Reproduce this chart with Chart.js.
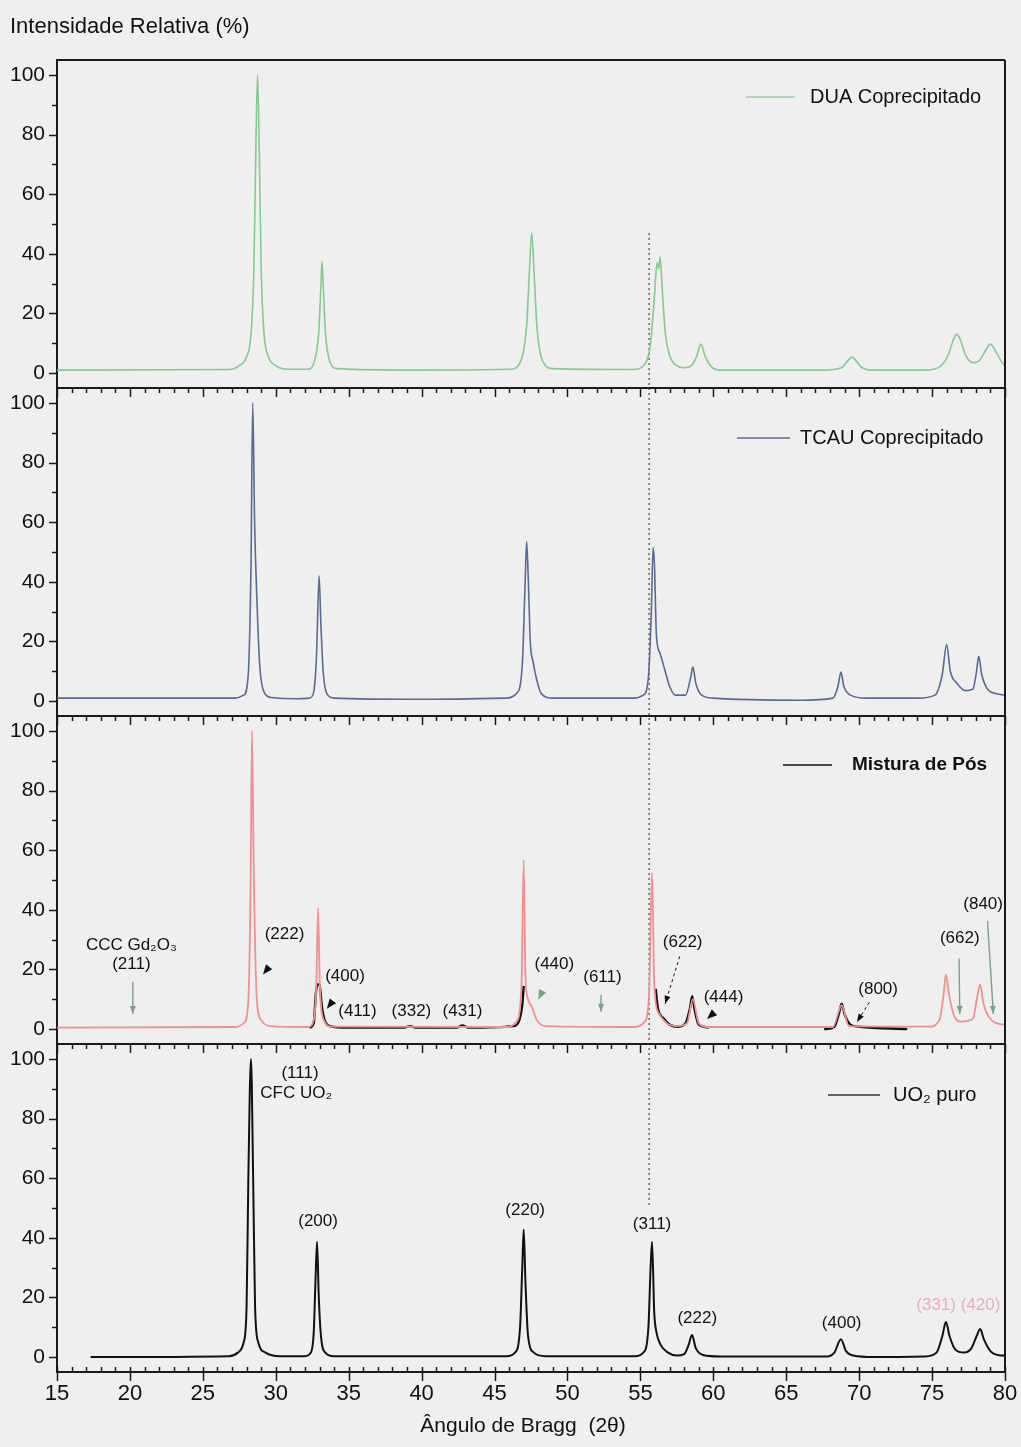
<!DOCTYPE html>
<html lang="pt">
<head>
<meta charset="utf-8">
<title>Difratogramas de raios X</title>
<script src="https://cdn.jsdelivr.net/npm/chart.js@4.4.0/dist/chart.umd.min.js"></script>
<style>
  html, body { margin: 0; padding: 0; background: #efefef; }
  #wrap { position: relative; width: 1021px; height: 1447px; }
</style>
</head>
<body>
<div id="wrap"><canvas id="xrd" width="1021" height="1447"></canvas></div>
<script>
// eixos
const xTicks = [15, 20, 25, 30, 35, 40, 45, 50, 55, 60, 65, 70, 75, 80];
const yTicks = [0, 20, 40, 60, 80, 100];

// DUA coprecipitado  [2θ, intensidade %]
const duaPattern = [
  [15, 1], [26.8, 1.2], [27.5, 2.5], [28.0, 5.5], [28.3, 13], [28.5, 35], [28.65, 80], [28.75, 100],
  [28.85, 80], [29.0, 35], [29.2, 13], [29.5, 5.5], [30.0, 2.5], [30.8, 1.3],
  [32.2, 1.3], [32.65, 4], [32.95, 14], [33.1, 30], [33.17, 37.5], [33.25, 30], [33.4, 14], [33.7, 4], [34.2, 1.5],
  [40, 1], [46.1, 1.3], [46.8, 4], [47.2, 16], [47.4, 35], [47.55, 47], [47.7, 35], [47.9, 16], [48.3, 4], [49.0, 1.5],
  [54.5, 1.2], [55.3, 3], [55.7, 10], [55.95, 25], [56.15, 37], [56.25, 35], [56.35, 39], [56.5, 28], [56.7, 14],
  [57.0, 6], [57.5, 2.5], [58.0, 1.8], [58.5, 2.5], [58.85, 5.5], [59.15, 9.7], [59.45, 5.5], [59.9, 2], [60.5, 1],
  [67.5, 1], [68.8, 1.8], [69.2, 4], [69.5, 5.4], [69.8, 4], [70.2, 1.8], [71, 1],
  [74.5, 1], [75.5, 2], [76.1, 6], [76.45, 11], [76.7, 13], [76.95, 11], [77.3, 6], [77.8, 3.5],
  [78.2, 4], [78.6, 7], [79.0, 9.7], [79.4, 7], [79.8, 3.5], [80, 2.5]
];

// TCAU coprecipitado
const tcauPattern = [
  [15, 1], [27.2, 1], [27.8, 2], [28.1, 8], [28.3, 45], [28.42, 100], [28.55, 60], [28.7, 35], [28.9, 12],
  [29.2, 3], [29.7, 1.2], [31.5, 0.8],
  [32.3, 1], [32.6, 3], [32.8, 16], [32.97, 42], [33.1, 25], [33.25, 10], [33.5, 2.5], [34, 1],
  [40, 0.6], [45.8, 1], [46.5, 2.5], [46.9, 12], [47.1, 40], [47.2, 53.5], [47.32, 40], [47.45, 20], [47.65, 13],
  [47.9, 7], [48.2, 2.5], [49, 1],
  [54.5, 1], [55.2, 2], [55.55, 8], [55.75, 30], [55.87, 51.5], [55.97, 45], [56.1, 22], [56.35, 16], [56.7, 10],
  [57.0, 5], [57.4, 2], [58.1, 2], [58.45, 8], [58.6, 11.4], [58.8, 6], [59.2, 2], [60, 1],
  [66, 0.3], [68.2, 1], [68.55, 5], [68.75, 9.7], [68.95, 5], [69.4, 2], [70.5, 1],
  [74, 1], [75.2, 2], [75.7, 9], [76.0, 19], [76.25, 10], [76.7, 6], [77.3, 3.5], [77.8, 4], [78.05, 10],
  [78.2, 15], [78.4, 9], [78.8, 4], [79.4, 2.5], [80, 2]
];

// mistura de pós (curva rosa, completa)
const misturaPattern = [
  [15, 0.5], [27.3, 0.7], [27.8, 2], [28.1, 8], [28.28, 50], [28.37, 100], [28.5, 50], [28.7, 10], [29.0, 3], [29.6, 1],
  [32.2, 0.7], [32.6, 3], [32.78, 15], [32.9, 40.7], [33.02, 15], [33.3, 3], [33.8, 0.8],
  [45.9, 0.7], [46.5, 2.5], [46.85, 15], [47.0, 56.6], [47.12, 18], [47.3, 10], [47.55, 7.5], [47.9, 3], [48.5, 1],
  [54.6, 0.7], [55.3, 2.5], [55.6, 12], [55.8, 52.5], [55.95, 15], [56.3, 5], [56.8, 2], [57.5, 1],
  [58.2, 2], [58.6, 10], [59.0, 2], [59.6, 0.7],
  [68.2, 0.7], [68.8, 8], [69.3, 1], [74.8, 0.8], [75.5, 3], [75.8, 12], [75.95, 18.3], [76.15, 12], [76.5, 4.5],
  [77, 2.5], [77.8, 3.5], [78.1, 11], [78.3, 15], [78.5, 9], [78.9, 4], [79.4, 2], [80, 1.5]
];

// trechos ampliados da mistura (preto)
const misturaTrechoA = [
  [32.3, 0.5], [32.6, 2], [32.75, 12], [32.85, 15], [33.0, 15], [33.15, 8], [33.35, 3], [33.7, 1], [35, 0.5],
  [38.8, 0.5], [39.2, 1], [39.6, 0.5], [42.4, 0.5], [42.8, 1.2], [43.2, 0.5], [46.3, 1], [46.7, 3], [46.9, 8], [47.0, 14.5]
];
const misturaTrechoB = [
  [56.05, 13.5], [56.2, 7], [56.4, 4.5], [56.6, 3.5], [57.0, 1.5], [57.6, 0.8], [58.1, 2], [58.4, 7], [58.55, 11],
  [58.7, 7], [58.95, 2], [59.3, 0.8], [59.7, 0.5]
];
const misturaTrechoC = [
  [67.6, 0], [68.3, 0.8], [68.6, 5], [68.8, 8.5], [69.0, 5], [69.4, 1.5], [70, 0.8], [73.3, 0]
];

// UO2 puro
const uo2Pattern = [
  [17.3, 0], [26.8, 0.3], [27.4, 1.5], [27.8, 5], [28.0, 17], [28.12, 60], [28.3, 100], [28.45, 60], [28.58, 17],
  [28.8, 5], [29.3, 1.5], [30.3, 0.3], [32.0, 0.3], [32.4, 1.5], [32.6, 8], [32.72, 25], [32.83, 38.7], [32.95, 20],
  [33.1, 7], [33.4, 1.5], [34, 0.3],
  [45.8, 0.3], [46.4, 1.5], [46.75, 10], [46.9, 30], [47.0, 42.8], [47.12, 25], [47.3, 7], [47.7, 1.5], [48.5, 0.3],
  [54.6, 0.3], [55.2, 1.5], [55.55, 10], [55.7, 30], [55.8, 38.7], [55.95, 15], [56.1, 8.4], [56.4, 4], [56.9, 1.5],
  [57.5, 0.5], [58.0, 1], [58.3, 4], [58.54, 7.4], [58.8, 3], [59.3, 0.7], [60.5, 0.2],
  [67.8, 0.2], [68.3, 1.5], [68.75, 6], [69.1, 2], [69.6, 0.5], [71, 0], [74.5, 0.2], [75.3, 1.5], [75.7, 7],
  [75.95, 11.8], [76.2, 7], [76.6, 2.5], [77.2, 1.5], [77.7, 3], [78.05, 7], [78.3, 9.4], [78.55, 6], [79, 2],
  [79.6, 0.6], [80, 0.5]
];

// índices (hkl) — painel da mistura
const rotulosMistura = [
  { t: 'CCC Gd₂O₃', x: 20.1, y: 28.1 }, { t: '(211)', x: 20.1, y: 21.7 },
  { t: '(222)', x: 30.6, y: 31.9 }, { t: '(400)', x: 34.75, y: 17.6 },
  { t: '(411)', x: 35.6, y: 5.8 }, { t: '(332)', x: 39.3, y: 5.8 }, { t: '(431)', x: 42.8, y: 5.8 },
  { t: '(440)', x: 49.1, y: 21.7 }, { t: '(611)', x: 52.4, y: 17.3 }, { t: '(622)', x: 57.9, y: 29.2 },
  { t: '(444)', x: 60.7, y: 10.8 }, { t: '(800)', x: 71.3, y: 13.2 }, { t: '(662)', x: 76.9, y: 30.5 },
  { t: '(840)', x: 78.5, y: 42 }
];
// setas: de (x1,y1) até a ponta (x2,y2)
const setasMistura = [
  { x1: 20.2, y1: 15.9, x2: 20.2, y2: 5.1, cor: '#7e9f8c', linha: true },
  { x1: 29.95, y1: 23.4, x2: 29.12, y2: 18.3, cor: '#111', linha: false },
  { x1: 34.4, y1: 12.5, x2: 33.5, y2: 6.8, cor: '#111', linha: false },
  { x1: 48.6, y1: 16, x2: 48.0, y2: 9.8, cor: '#7e9f8c', linha: false },
  { x1: 52.3, y1: 11.5, x2: 52.3, y2: 5.8, cor: '#7e9f8c', linha: true },
  { x1: 57.7, y1: 24.4, x2: 56.7, y2: 8.5, cor: '#111', linha: 'dash' },
  { x1: 60.25, y1: 6.4, x2: 59.57, y2: 3.4, cor: '#111', linha: false },
  { x1: 70.7, y1: 9, x2: 69.85, y2: 2.4, cor: '#111', linha: 'dash' },
  { x1: 76.85, y1: 23.7, x2: 76.9, y2: 5.1, cor: '#7e9f8c', linha: true },
  { x1: 78.8, y1: 36.3, x2: 79.2, y2: 5.1, cor: '#7e9f8c', linha: true }
];
// índices — painel do UO2
const rotulosUO2 = [
  { t: '(111)', x: 31.66, y: 95.3 }, { t: 'CFC UO₂', x: 31.4, y: 88.6 },
  { t: '(200)', x: 32.9, y: 45.5 }, { t: '(220)', x: 47.1, y: 49.2 }, { t: '(311)', x: 55.8, y: 44.4 },
  { t: '(222)', x: 58.9, y: 13.1 }, { t: '(400)', x: 68.8, y: 11.4 },
  { t: '(331) (420)', x: 76.8, y: 17.5, cor: '#e7aac6' }
];

const FONT = '"Liberation Sans", Arial, sans-serif';
const VERDE = '#86c991', AZUL = '#5a6a93', ROSA = '#ef9191', PRETO = '#111';

const legendas = [
  { eixo: 'y1', texto: 'DUA Coprecipitado', cor: '#9ccfa6', l0: 746, l1: 795, tx: 810, dy: 37, bold: false },
  { eixo: 'y2', texto: 'TCAU Coprecipitado', cor: AZUL, l0: 737, l1: 790, tx: 800, dy: 50, bold: false },
  { eixo: 'y3', texto: 'Mistura de Pós', cor: PRETO, l0: 783, l1: 832, tx: 852, dy: 49, bold: true },
  { eixo: 'y4', texto: 'UO₂ puro', cor: '#333', l0: 828, l1: 880, tx: 893, dy: 51, bold: false }
];

const pts = arr => arr.map(([x, y]) => ({ x, y }));
const gap = x => ({ x, y: null });

function eixoY() {
  return {
    type: 'linear', position: 'left', stack: 'paineis', stackWeight: 1,
    min: -5, max: 105,
    afterBuildTicks: s => { s.ticks = yTicks.map(v => ({ value: v })); },
    afterFit: s => { s.width = 57; },
    grid: { drawOnChartArea: false, drawTicks: false },
    border: { color: '#1a1a1a', width: 2 },
    ticks: { color: '#111', font: { family: FONT, size: 21 }, padding: 12 }
  };
}

function seta(ctx, a, b, cor, linha) {
  const ang = Math.atan2(b.y - a.y, b.x - a.x);
  ctx.save();
  ctx.strokeStyle = cor; ctx.fillStyle = cor; ctx.lineWidth = linha === 'dash' ? 1 : 1.4;
  if (linha) {
    if (linha === 'dash') ctx.setLineDash([3, 3]);
    ctx.beginPath(); ctx.moveTo(a.x, a.y); ctx.lineTo(b.x, b.y); ctx.stroke();
    ctx.setLineDash([]);
  }
  const h = linha ? 8 : 10, w = linha ? 3 : 4;
  ctx.beginPath();
  ctx.moveTo(b.x, b.y);
  ctx.lineTo(b.x - h * Math.cos(ang) + w * Math.sin(ang), b.y - h * Math.sin(ang) - w * Math.cos(ang));
  ctx.lineTo(b.x - h * Math.cos(ang) - w * Math.sin(ang), b.y - h * Math.sin(ang) + w * Math.cos(ang));
  ctx.closePath(); ctx.fill();
  ctx.restore();
}

const moldura = {
  id: 'moldura',
  beforeDatasetsDraw(chart) {
    const { ctx, scales } = chart;
    // linha pontilhada em 2θ = 55,6
    const px = scales.x.getPixelForValue(55.6);
    ctx.save();
    ctx.strokeStyle = '#666'; ctx.lineWidth = 1.5; ctx.setLineDash([2, 3]);
    ctx.beginPath();
    ctx.moveTo(px, scales.y1.getPixelForValue(47));
    ctx.lineTo(px, scales.y4.getPixelForValue(50));
    ctx.stroke();
    ctx.restore();
  },
  afterDraw(chart) {
    const { ctx, chartArea: ca, scales } = chart;
    const x = scales.x;
    ctx.save();
    ctx.strokeStyle = '#1a1a1a';
    ctx.lineWidth = 1.5;

    // marcas dos eixos y (fora)
    ['y1', 'y2', 'y3', 'y4'].forEach(id => {
      const s = scales[id];
      for (let v = 0; v <= 100; v += 10) {
        const py = Math.round(s.getPixelForValue(v)) + 0.5;
        const len = v % 20 === 0 ? 8 : 5;
        ctx.beginPath(); ctx.moveTo(ca.left - len, py); ctx.lineTo(ca.left, py); ctx.stroke();
      }
    });

    // divisões entre painéis com marcas para dentro
    ['y1', 'y2', 'y3', 'y4'].forEach(id => {
      const top = scales[id].top;
      ctx.lineWidth = 2;
      ctx.beginPath(); ctx.moveTo(ca.left, top); ctx.lineTo(ca.right, top); ctx.stroke();
      if (id === 'y1') return;
      ctx.lineWidth = 1.5;
      for (let v = 15; v <= 80; v++) {
        const p = Math.round(x.getPixelForValue(v)) + 0.5;
        const len = v % 5 === 0 ? 9 : 5;
        ctx.beginPath(); ctx.moveTo(p, top); ctx.lineTo(p, top + len); ctx.stroke();
      }
    });

    // eixo inferior
    ctx.lineWidth = 1.5;
    for (let v = 15; v <= 80; v++) {
      const p = Math.round(x.getPixelForValue(v)) + 0.5;
      ctx.beginPath();
      if (v % 5 === 0) { ctx.moveTo(p, ca.bottom - 5); ctx.lineTo(p, ca.bottom + 9); }
      else { ctx.moveTo(p, ca.bottom - 5); ctx.lineTo(p, ca.bottom); }
      ctx.stroke();
    }

    // borda direita
    ctx.lineWidth = 2;
    ctx.beginPath(); ctx.moveTo(ca.right, ca.top); ctx.lineTo(ca.right, ca.bottom); ctx.stroke();

    // legendas de cada painel
    legendas.forEach(l => {
      const py = scales[l.eixo].top + l.dy;
      ctx.strokeStyle = l.cor; ctx.lineWidth = 1.5;
      ctx.beginPath(); ctx.moveTo(l.l0, py); ctx.lineTo(l.l1, py); ctx.stroke();
      ctx.fillStyle = '#111';
      ctx.font = (l.bold ? 'bold 19px ' : '20px ') + FONT;
      ctx.textAlign = 'left'; ctx.textBaseline = 'middle';
      ctx.fillText(l.texto, l.tx, py);
    });

    // índices de Miller
    ctx.font = '17px ' + FONT;
    ctx.textAlign = 'center'; ctx.textBaseline = 'middle';
    rotulosMistura.forEach(r => {
      ctx.fillStyle = '#111';
      ctx.fillText(r.t, x.getPixelForValue(r.x), scales.y3.getPixelForValue(r.y));
    });
    rotulosUO2.forEach(r => {
      ctx.fillStyle = r.cor || '#111';
      ctx.fillText(r.t, x.getPixelForValue(r.x), scales.y4.getPixelForValue(r.y));
    });
    setasMistura.forEach(s => {
      const a = { x: x.getPixelForValue(s.x1), y: scales.y3.getPixelForValue(s.y1) };
      const b = { x: x.getPixelForValue(s.x2), y: scales.y3.getPixelForValue(s.y2) };
      seta(ctx, a, b, s.cor, s.linha);
    });

    // títulos dos eixos
    ctx.fillStyle = '#111';
    ctx.font = '22px ' + FONT;
    ctx.textAlign = 'left';
    ctx.fillText('Intensidade Relativa (%)', 10, 27);
    ctx.font = '21px ' + FONT;
    ctx.textAlign = 'center';
    ctx.fillText('Ângulo de Bragg  (2θ)', (ca.left + ca.right) / 2 - 8, 1426);
    ctx.restore();
  }
};

const linha = (data, eixo, cor, largura) => ({
  data, yAxisID: eixo, borderColor: cor, borderWidth: largura,
  pointRadius: 0, fill: false, cubicInterpolationMode: 'monotone', spanGaps: false
});

new Chart(document.getElementById('xrd'), {
  type: 'line',
  data: {
    datasets: [
      linha(pts(duaPattern), 'y1', VERDE, 1.6),
      linha(pts(tcauPattern), 'y2', AZUL, 1.6),
      linha(pts(misturaPattern), 'y3', ROSA, 1.8),
      linha([...pts(misturaTrechoA), gap(50), ...pts(misturaTrechoB), gap(63), ...pts(misturaTrechoC)], 'y3', PRETO, 2.4),
      linha(pts(uo2Pattern), 'y4', PRETO, 2)
    ]
  },
  options: {
    responsive: false,
    devicePixelRatio: 1,
    animation: false,
    layout: { padding: { top: 60, right: 16, left: 0, bottom: 0 } },
    plugins: { legend: { display: false }, tooltip: { enabled: false } },
    scales: {
      x: {
        type: 'linear', position: 'bottom', min: 15, max: 80,
        afterBuildTicks: s => { s.ticks = xTicks.map(v => ({ value: v })); },
        afterFit: s => { s.height = 75; s.paddingLeft = 0; s.paddingRight = 0; },
        grid: { drawOnChartArea: false, drawTicks: false },
        border: { color: '#1a1a1a', width: 2 },
        ticks: { color: '#111', font: { family: FONT, size: 22 }, padding: 9, maxRotation: 0 }
      },
      y4: eixoY(),
      y3: eixoY(),
      y2: eixoY(),
      y1: eixoY()
    }
  },
  plugins: [moldura]
});
</script>
</body>
</html>
